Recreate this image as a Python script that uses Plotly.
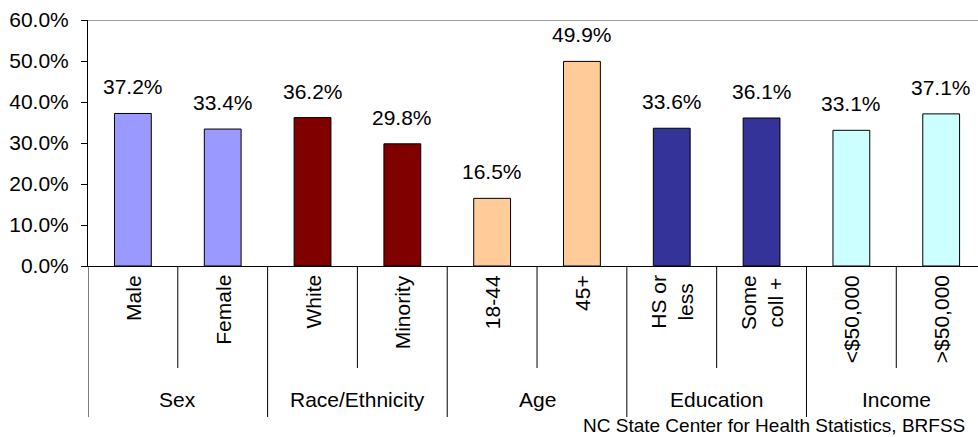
import plotly.graph_objects as go

categories = ["Male", "Female", "White", "Minority", "18-44", "45+",
              "HS or<br>less", "Some<br>coll +", "<$50,000", ">$50,000"]
values = [37.2, 33.4, 36.2, 29.8, 16.5, 49.9, 33.6, 36.1, 33.1, 37.1]
groups = ["Sex", "Race/Ethnicity", "Age", "Education", "Income"]
group_colors = ["#9999FF", "#800000", "#FFCC99", "#333399", "#CCFFFF"]
y_ticks = [0, 10, 20, 30, 40, 50, 60]
y_tick_labels = ["0.0%", "10.0%", "20.0%", "30.0%", "40.0%", "50.0%", "60.0%"]
source = "NC State Center for Health Statistics, BRFSS"

FONT = "Liberation Sans, Arial, sans-serif"
W, H = 978, 437
ML, MR, MT, MB = 88, 0, 20, 171
pw = W - ML - MR
ph = H - MT - MB


def py(pix):
    return (H - MB - pix) / ph


def px(pix):
    return (pix - ML) / pw


x = list(range(len(categories)))
colors = [group_colors[i // 2] for i in x]

fig = go.Figure()
fig.add_trace(go.Bar(
    x=x, y=values, width=0.41,
    marker=dict(color=colors, line=dict(color="black", width=1)),
    hoverinfo="skip",
))

ann = []
# data labels
for xi, v in zip(x, values):
    ann.append(dict(x=xi, y=v, xref="x", yref="y", text=f"{v:.1f}%",
                    showarrow=False, yanchor="bottom", yshift=13,
                    font=dict(size=21, color="black", family=FONT)))
# category labels (rotated)
for xi, c in zip(x, categories):
    ann.append(dict(x=xi, y=py(273), xref="x", yref="paper",
                    text=c, textangle=-90, showarrow=False,
                    xanchor="center", yanchor="top", align="center",
                    font=dict(size=21, color="black", family=FONT)))
# group labels
for gi, g in enumerate(groups):
    ann.append(dict(x=2 * gi + 0.5, y=py(399), xref="x", yref="paper",
                    text=g, showarrow=False, xanchor="center", yanchor="middle",
                    font=dict(size=21, color="black", family=FONT)))
# source
ann.append(dict(x=px(966), y=py(437), xref="paper", yref="paper", text=source,
                showarrow=False, xanchor="right", yanchor="bottom", borderpad=0,
                font=dict(size=19, color="black", family=FONT)))

shapes = []
# top border line
shapes.append(dict(type="line", xref="paper", yref="y", x0=0, x1=1, y0=60, y1=60,
                   line=dict(color="#808080", width=1.5)))
# separators below axis
for k in range(10):
    xb = k - 0.5
    y1 = py(417) if k % 2 == 0 else py(368)
    shapes.append(dict(type="line", xref="x", yref="paper", x0=xb, x1=xb,
                       y0=0, y1=y1, line=dict(color="black", width=1)))

fig.update_layout(
    width=W, height=H, autosize=False,
    margin=dict(l=ML, r=MR, t=MT, b=MB, pad=0),
    paper_bgcolor="white", plot_bgcolor="white",
    showlegend=False,
    bargap=0,
    font=dict(family=FONT, size=20, color="black"),
    xaxis=dict(range=[-0.5, 9.41], showticklabels=False, showgrid=False,
               zeroline=False, showline=True, linecolor="black", linewidth=1,
               fixedrange=True),
    yaxis=dict(range=[0, 60], tickmode="array", tickvals=y_ticks, ticktext=y_tick_labels,
               showgrid=False, zeroline=False, showline=True, linecolor="black",
               linewidth=1, ticks="outside", ticklen=6, tickcolor="black",
               ticklabelstandoff=8,
               tickfont=dict(size=21, family=FONT, color="black"), fixedrange=True),
    annotations=ann,
    shapes=shapes,
)

fig.write_html("out.html", config={"displayModeBar": False, "staticPlot": True},
               post_script="document.body.style.margin='0';document.body.style.overflow='hidden';")
